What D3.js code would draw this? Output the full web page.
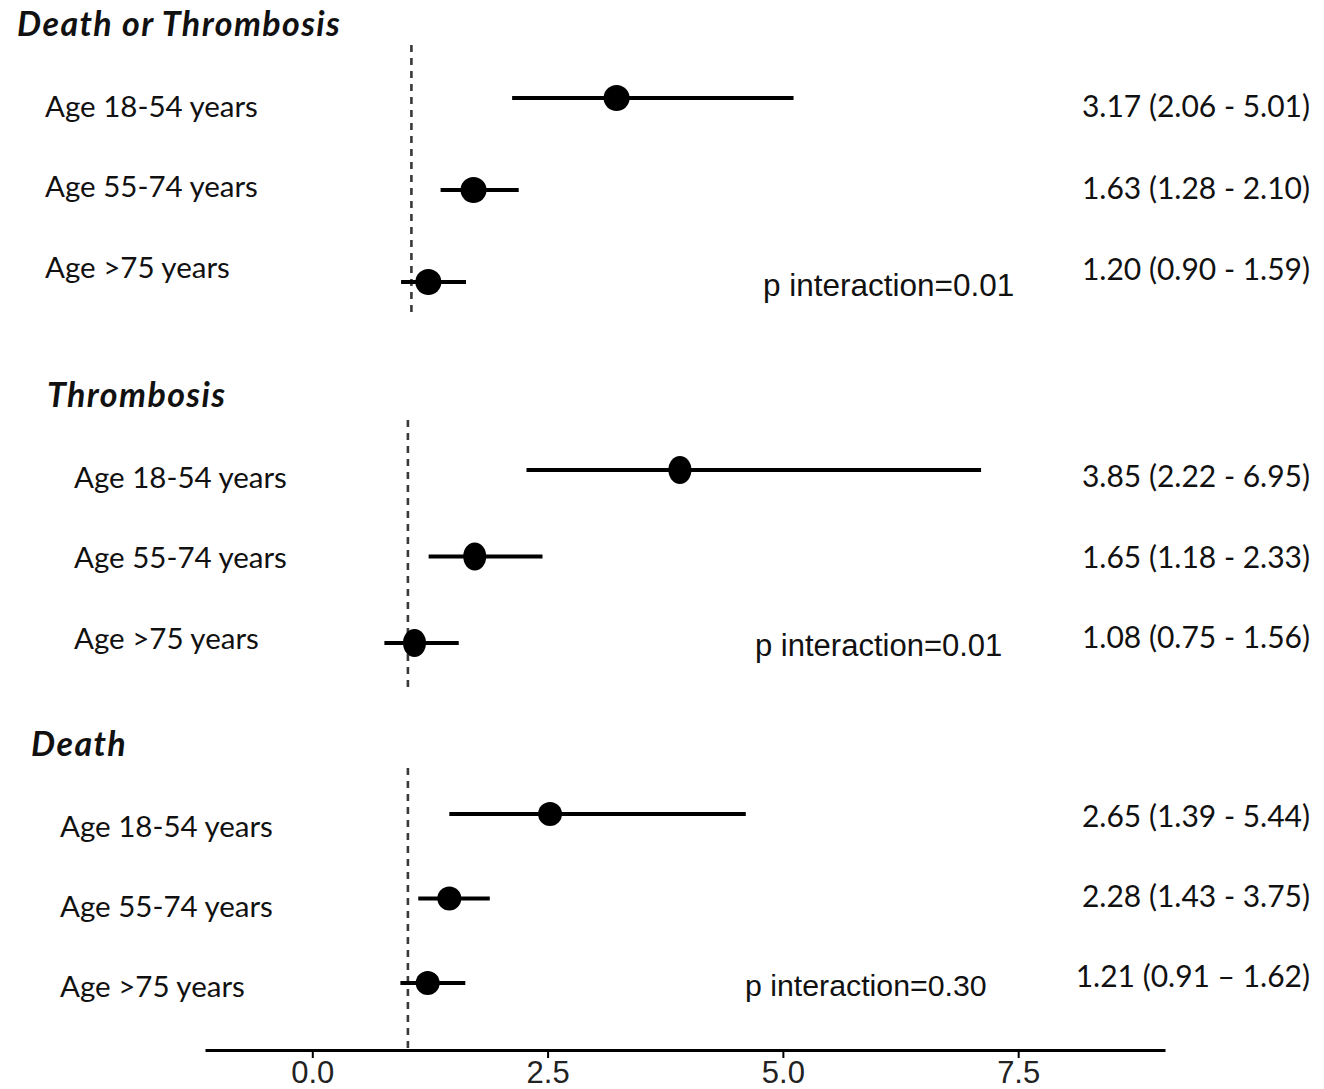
<!DOCTYPE html>
<html>
<head>
<meta charset="utf-8">
<script src="https://cdn.jsdelivr.net/npm/d3@7"></script>
<style>
  html, body { margin: 0; padding: 0; background: #fff; }
  svg { display: block; }
</style>
</head>
<body>
<svg id="chart" width="1324" height="1089"></svg>
<script>
// ---------------- DATA ----------------
const panels = ["Death or Thrombosis", "Thrombosis", "Death"];
const ageGroups = ["Age 18-54 years", "Age 55-74 years", "Age >75 years"];
// plotted hazard ratios
const estimates = [[3.18, 1.66, 1.18], [3.89, 1.71, 1.07], [2.51, 1.44, 1.21]];
const lowers    = [[2.07, 1.31, 0.89], [2.26, 1.22, 0.75], [1.44, 1.11, 0.92]];
const uppers    = [[5.06, 2.14, 1.58], [7.09, 2.43, 1.54], [4.59, 1.87, 1.61]];
// printed estimates (95% CI)
const ciLabels = [
  ["3.17 (2.06 - 5.01)", "1.63 (1.28 - 2.10)", "1.20 (0.90 - 1.59)"],
  ["3.85 (2.22 - 6.95)", "1.65 (1.18 - 2.33)", "1.08 (0.75 - 1.56)"],
  ["2.65 (1.39 - 5.44)", "2.28 (1.43 - 3.75)", "1.21 (0.91 \u2013 1.62)"]
];
const pInteraction = ["p interaction=0.01", "p interaction=0.01", "p interaction=0.30"];
const xTicks = [0, 2.5, 5, 7.5];
const xDomain = [-1.14, 9.06];
const refValue = 1;

// ---------------- LAYOUT ----------------
const layout = [
  { shift: 5,   title: [17, 22],  labelX: 45, labelRange: [105, 266], markRange: [98, 282],  valueRange: [105, 268], p: [763, 285], pSize: 31.5, ref: [45, 317],  rx: 13,   ry: 13 },
  { shift: 1.5, title: [47, 393], labelX: 74, labelRange: [476, 637], markRange: [470, 643], valueRange: [475, 636], p: [755, 645], pSize: 31,   ref: [420, 688], rx: 11.5, ry: 14 },
  { shift: 1.5, title: [31, 742], labelX: 60, labelRange: [825, 985], markRange: [814, 983], valueRange: [815, 975], p: [745, 985], pSize: 30.3, ref: [768, 1050], rx: 12,   ry: 12 }
];
const axisY = 1050;
const valueRight = 1310;

const labelFont = "Lato, 'Open Sans', sans-serif";
const arialFont = "'Liberation Sans', Arial, sans-serif";
const ink = "#111";

const svg = d3.select("#chart");
const x = d3.scaleLinear().domain(xDomain).range([205, 1165]);

panels.forEach((name, pi) => {
  const L = layout[pi];
  const g = svg.append("g");
  const px = v => x(v) + L.shift;

  const yMark = d3.scalePoint().domain(ageGroups).range(L.markRange);
  const yLabel = d3.scalePoint().domain(ageGroups).range(L.labelRange);
  const yValue = d3.scalePoint().domain(ageGroups).range(L.valueRange);

  // title
  g.append("text")
    .attr("x", L.title[0]).attr("y", L.title[1])
    .attr("dominant-baseline", "central")
    .attr("font-family", labelFont).attr("font-weight", 700).attr("font-style", "italic")
    .attr("font-size", 34).attr("letter-spacing", 1.4).attr("fill", ink)
    .text(name);

  // reference line
  g.append("line")
    .attr("x1", px(refValue)).attr("x2", px(refValue))
    .attr("y1", L.ref[0]).attr("y2", L.ref[1])
    .attr("stroke", "#3a3a3a").attr("stroke-width", 2.6)
    .attr("stroke-dasharray", "7,6");

  // age labels
  g.selectAll("text.lab").data(ageGroups).join("text")
    .attr("class", "lab")
    .attr("x", L.labelX).attr("y", d => yLabel(d))
    .attr("dominant-baseline", "central")
    .attr("font-family", labelFont).attr("font-size", 29.5).attr("fill", ink)
    .text(d => d);

  const rows = ageGroups.map((a, i) => ({ a, est: estimates[pi][i], lo: lowers[pi][i], hi: uppers[pi][i], lab: ciLabels[pi][i] }));

  // CI lines
  g.selectAll("line.ci").data(rows).join("line")
    .attr("class", "ci")
    .attr("x1", d => px(d.lo)).attr("x2", d => px(d.hi))
    .attr("y1", d => yMark(d.a)).attr("y2", d => yMark(d.a))
    .attr("stroke", "#000").attr("stroke-width", 4.2);

  // points
  g.selectAll("ellipse.pt").data(rows).join("ellipse")
    .attr("class", "pt")
    .attr("cx", d => px(d.est)).attr("cy", d => yMark(d.a))
    .attr("rx", L.rx).attr("ry", L.ry)
    .attr("fill", "#000");

  // printed values
  g.selectAll("text.val").data(rows).join("text")
    .attr("class", "val")
    .attr("x", valueRight).attr("y", d => yValue(d.a))
    .attr("text-anchor", "end").attr("dominant-baseline", "central")
    .attr("font-family", labelFont).attr("font-size", 30).attr("fill", ink)
    .text(d => d.lab);

  // p interaction
  g.append("text")
    .attr("x", L.p[0]).attr("y", L.p[1])
    .attr("dominant-baseline", "central")
    .attr("font-family", arialFont).attr("font-size", L.pSize).attr("fill", ink)
    .text(pInteraction[pi]);
});

// x axis
const axis = d3.axisBottom(x).tickValues(xTicks).tickFormat(d3.format(".1f")).tickSize(8).tickSizeOuter(0);
const ax = svg.append("g").attr("transform", `translate(0,${axisY})`).call(axis);
ax.select(".domain").attr("stroke", "#000").attr("stroke-width", 3);
ax.selectAll(".tick line").attr("stroke", "#000").attr("stroke-width", 2);
ax.selectAll(".tick text")
  .attr("y", 33).attr("dy", null)
  .attr("font-family", arialFont).attr("font-size", 31).attr("fill", "#222");
</script>
</body>
</html>
